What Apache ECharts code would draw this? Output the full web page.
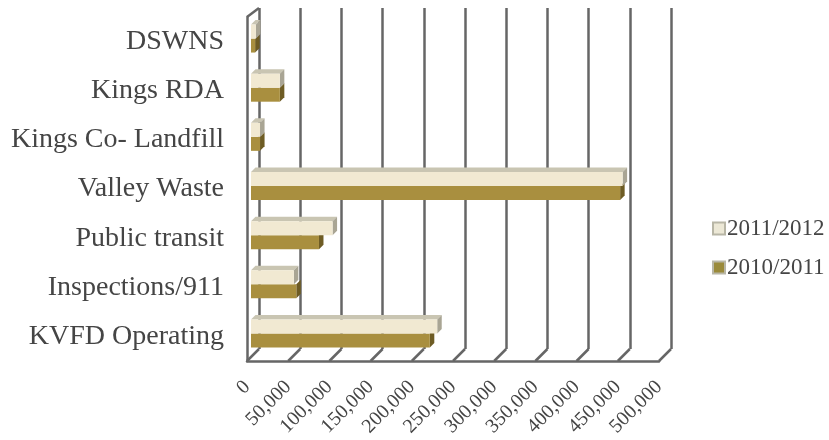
<!DOCTYPE html>
<html><head><meta charset="utf-8">
<style>html,body{margin:0;padding:0;background:#fff}#c{width:829px;height:440px}</style>
<script src="https://cdn.jsdelivr.net/npm/echarts@6/dist/echarts.min.js"></script>
</head><body><div id="c"></div>
<script>
const categories = ['DSWNS','Kings RDA','Kings Co- Landfill','Valley Waste','Public transit','Inspections/911','KVFD Operating'];
const values1112 = [6000,35000,11000,451000,99000,52000,226000];
const values1011 = [5000,35000,11000,448000,82500,55000,217000];
const xTicks = [0,50000,100000,150000,200000,250000,300000,350000,400000,450000,500000];
const FONT = '"Liberation Serif", serif';
const TEXT = '#454545', FRAME = '#666666';

function boxRenderer(slot, faces){
  return function(params, api){
    const v = api.value(0), i = api.value(1);
    const band = api.size([0,1])[1];
    const h = band*14/49.2;
    const c0 = api.coord([0,i]), c1 = api.coord([v,i]);
    const x0 = c0[0]+4, x1 = c1[0]+4;
    const mid = c0[1]-3;
    const yt = slot===0 ? mid-h : mid, yb = yt+h;
    const dx = 4.5, dy = 4.5;
    const kids = [];
    if(slot===0){
      kids.push({type:'polygon',shape:{points:[[x0,yt],[x0+dx,yt-dy],[x1+dx,yt-dy],[x1,yt]]},style:{fill:faces.top}});
    }
    kids.push({type:'polygon',shape:{points:[[x1,yt],[x1+dx,yt-dy],[x1+dx,yb-dy],[x1,yb]]},style:{fill:faces.side}});
    kids.push({type:'rect',shape:{x:x0,y:yt,width:x1-x0,height:h},style:{fill:faces.front}});
    return {type:'group',children:kids};
  };
}
function frameRenderer(params, api){
  const v = api.value(0), r = params.coordSys;
  const x = api.coord([v,0])[0], b = r.y+r.height;
  const style = {stroke:FRAME,lineWidth:2.5,fill:null};
  const kids = [{type:'line',shape:{x1:x,y1:b,x2:x+12,y2:b-12},style}];
  if(v===0){
    kids.push({type:'line',shape:{x1:x,y1:r.y,x2:x+12,y2:r.y-9},style});
  }
  return {type:'group',children:kids};
}
const chart = echarts.init(document.getElementById('c'),null,{renderer:'canvas'});
const pairs = a => a.map((v,i)=>[v,i]);
chart.setOption({
  animation:false,
  backgroundColor:'#fff',
  grid:[
    {left:247,top:17,width:412,height:344,outerBoundsMode:'none'},
    {left:259,top:8,width:412,height:341,outerBoundsMode:'none'}
  ],
  xAxis:[
    {type:'value',gridIndex:0,min:0,max:500000,interval:50000,position:'bottom',
     axisLine:{show:true,lineStyle:{color:FRAME,width:2.5}},axisTick:{show:false},splitLine:{show:false},
     axisLabel:{rotate:45,margin:23,color:TEXT,fontFamily:FONT,fontSize:20,hideOverlap:false,showMinLabel:true,showMaxLabel:true,
       formatter:v=>v.toLocaleString('en-US')}},
    {type:'value',gridIndex:1,min:0,max:500000,interval:50000,position:'bottom',
     axisLine:{show:false},axisTick:{show:false},axisLabel:{show:false},
     splitLine:{show:true,lineStyle:{color:FRAME,width:2.5,type:'solid'}}}
  ],
  yAxis:[
    {type:'category',gridIndex:0,data:categories,inverse:true,
     axisLine:{show:true,onZero:false,lineStyle:{color:FRAME,width:2.5}},axisTick:{show:false},splitLine:{show:false},
     axisLabel:{margin:23,color:TEXT,fontFamily:FONT,fontSize:28,interval:0}},
    {type:'category',gridIndex:1,data:categories,inverse:true,
     axisLine:{show:false},axisTick:{show:false},axisLabel:{show:false},splitLine:{show:false}}
  ],
  legend:{orient:'vertical',left:707,top:212,itemWidth:12,itemHeight:12,itemGap:16,
    icon:'rect',data:['2011/2012','2010/2011'],selectedMode:false,
    textStyle:{color:TEXT,fontFamily:FONT,fontSize:23,padding:[0,0,0,-3]}},
  series:[
    {type:'custom',xAxisIndex:0,yAxisIndex:0,clip:false,z:1,silent:true,data:xTicks.map(v=>[v]),
     encode:{x:0},renderItem:frameRenderer},
    {type:'custom',name:'2011/2012',xAxisIndex:0,yAxisIndex:0,clip:false,z:5,
     itemStyle:{color:'#ece8d6',borderColor:'#b8b6a6',borderWidth:1},
     data:pairs(values1112),encode:{x:0,y:1},
     renderItem:boxRenderer(0,{front:'#f1e9d2',top:'#c9c5b2',side:'#a9a594'})},
    {type:'custom',name:'2010/2011',xAxisIndex:0,yAxisIndex:0,clip:false,z:4,
     itemStyle:{color:'#9a8a3a',borderColor:'#b8b6a6',borderWidth:1},
     data:pairs(values1011),encode:{x:0,y:1},
     renderItem:boxRenderer(1,{front:'#a98f3f',top:'#c9c5b2',side:'#6e5c24'})}
  ]
});
</script></body></html>
